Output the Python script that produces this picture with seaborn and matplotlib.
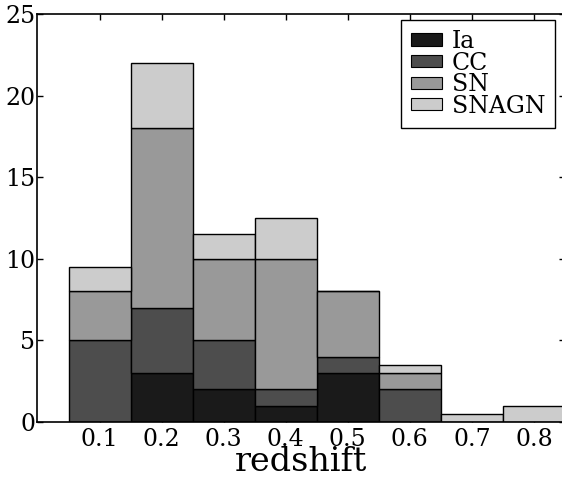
import numpy as np
import pandas as pd
import matplotlib
matplotlib.use("Agg")
import matplotlib.pyplot as plt
from matplotlib.patches import Patch
import seaborn as sns

# Bin centres of the redshift histogram (bin width 0.1)
redshift = [0.1, 0.2, 0.3, 0.4, 0.5, 0.6, 0.7, 0.8]
bin_edges = [0.05, 0.15, 0.25, 0.35, 0.45, 0.55, 0.65, 0.75, 0.85]

# Counts per class in each bin
ia = [0, 3, 2, 1, 3, 0, 0, 0]
cc = [5, 4, 3, 1, 1, 2, 0, 0]
sn = [3, 11, 5, 8, 4, 1, 0, 0]
snagn = [1.5, 4, 1.5, 2.5, 0, 0.5, 0.5, 1]

classes = ["Ia", "CC", "SN", "SNAGN"]
colors = {"Ia": "#1a1a1a", "CC": "#4d4d4d", "SN": "#999999", "SNAGN": "#cccccc"}

frames = []
for name, counts in zip(classes, [ia, cc, sn, snagn]):
    frames.append(pd.DataFrame({"redshift": redshift, "count": counts, "type": name}))
df = pd.concat(frames, ignore_index=True)

sns.set_style("ticks")
plt.rcParams["font.family"] = ["DejaVu Serif"]
plt.rcParams["text.color"] = "black"
plt.rcParams["axes.labelcolor"] = "black"

fig = plt.figure(figsize=(5.62, 4.78), dpi=100)
ax = fig.add_axes([37.5 / 562, 56 / 478, 527.5 / 562, 408 / 478])

# seaborn stacks the first hue level on top, so list the classes top-down
sns.histplot(
    data=df, x="redshift", weights="count", hue="type",
    hue_order=classes[::-1], multiple="stack", bins=bin_edges,
    palette=colors, alpha=1, edgecolor="black", linewidth=1.0,
    legend=False, ax=ax,
)

ax.set_xlim(0, 0.85)
ax.set_ylim(0, 25)
ax.set_xticks(redshift)
ax.set_xticklabels([f"{v:.1f}" for v in redshift])
ax.set_yticks([0, 5, 10, 15, 20, 25])
ax.set_ylabel("")
ax.set_xlabel("redshift", fontsize=24, labelpad=-3.5)
ax.tick_params(direction="in", length=4, width=1, top=True, right=True,
               labelsize=17, colors="black")
ax.tick_params(axis="y", pad=1.5)
ax.tick_params(axis="x", pad=4)
for s in ax.spines.values():
    s.set_linewidth(1.2)
    s.set_color("black")

handles = [Patch(facecolor=colors[c], edgecolor="black", linewidth=0.8) for c in classes]
leg = ax.legend(handles, classes, loc="upper right", bbox_to_anchor=(0.981, 0.985),
                borderaxespad=0, fontsize=17, frameon=True, fancybox=False,
                framealpha=1, edgecolor="black", labelspacing=-0.06,
                handlelength=1.3, handleheight=0.42, handletextpad=0.42,
                borderpad=0.42)
leg.get_frame().set_linewidth(1.0)

fig.savefig("out.png", dpi=100)
